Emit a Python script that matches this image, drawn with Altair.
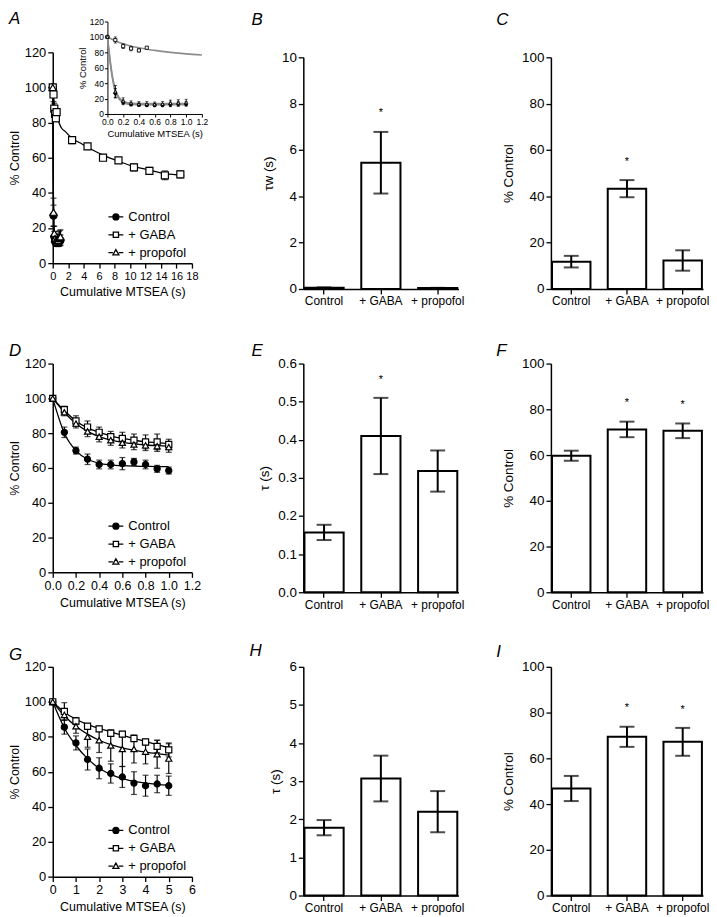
import altair as alt
import pandas as pd

FONT = "Liberation Sans"
GROUPS = ["Control", "+ GABA", "+ propofol"]

# ---------------- Panel A (main + inset) ----------------
A_x = [0.0, 0.1, 0.2, 0.3, 0.4, 0.5, 0.6, 0.7, 0.8, 0.9, 1.0]
A_ctrl = [100, 27, 15, 12.5, 12, 11.5, 11.5, 11.5, 12.5, 13, 13]
A_ctrl_err = [0, 6, 3, 2, 2, 2, 2, 2, 3, 3, 3]
A_prop = [100, 29, 17, 14, 13, 13, 12.5, 13, 14, 14.5, 15]
A_prop_err = [0, 8, 4, 3, 3, 3, 3, 3, 4, 4, 4]
A_gaba_x = [0.0, 0.1, 0.2, 0.3, 0.4, 0.5, 2.5, 4.5, 6.5, 8.5, 10.5, 12.5, 14.5, 16.5]
A_gaba = [100, 96, 88, 85, 82.5, 86, 70, 66.5, 60, 58.5, 54.5, 52.5, 50, 50.5]
A_gaba_err = [0, 4, 3, 3, 2, 0, 2, 1.5, 1, 1, 2, 2, 2.5, 2]

A_fast_fit_x = [0.0, 0.05, 0.1, 0.15, 0.2, 0.3, 0.5, 0.7, 1.0]
A_ctrl_fit = [100, 55, 29, 19, 15, 12.5, 12, 12, 12]
A_prop_fit = [100, 58, 32, 21, 16.5, 14, 13.5, 13.5, 13.5]
A_gaba_fit_x = [0.0, 0.1, 0.2, 0.3, 0.4, 0.5, 0.6, 0.8, 1.0, 1.2, 1.6, 2.5, 3.5,
                4.5, 6.5, 8.5, 10.5, 12.5, 14.5, 16.5, 17.0]
A_gaba_fit = [100, 95, 91, 88, 86, 84, 82.5, 80, 78, 76.5, 75, 71, 68.5,
              66, 61.5, 58, 55, 53, 51, 50, 49.6]

# ---------------- Panel D ----------------
D_x = [0.0, 0.1, 0.2, 0.3, 0.4, 0.5, 0.6, 0.7, 0.8, 0.9, 1.0]
D_ctrl = [100, 80.5, 70, 65, 62, 62, 62.5, 63.5, 62, 59.5, 58.5]
D_ctrl_err = [0, 3, 2, 3, 2.5, 2.5, 3.5, 2, 2.5, 2, 2]
D_gaba = [100, 93.5, 87, 83.5, 80.5, 78, 77, 76, 75, 75, 73.5]
D_gaba_err = [0, 2, 3, 3.5, 3, 3, 3.5, 3.5, 4, 4.5, 3]
D_prop = [100, 92, 85.5, 81, 78, 76, 74.5, 73.5, 73, 72.5, 72]
D_prop_err = [0, 2, 2.5, 3, 3, 3, 3, 3, 3, 3, 3]
D_ctrl_fit = [100, 80, 70, 65, 62.7, 61.8, 61.3, 61, 60.9, 60.8, 60.8]
D_gaba_fit = [100, 93, 87, 83, 80.5, 78.5, 77, 76, 75, 74.5, 74]
D_prop_fit = [100, 92, 85.5, 81, 78, 76, 74.7, 73.8, 73.2, 72.8, 72.5]

# ---------------- Panel G ----------------
G_x = [0.0, 0.5, 1.0, 1.5, 2.0, 2.5, 3.0, 3.5, 4.0, 4.5, 5.0]
G_ctrl = [100, 85.5, 76.5, 67, 62, 59, 57, 53.5, 52, 53, 52]
G_ctrl_err = [0, 4, 4, 6, 6, 5.5, 6, 6.5, 6, 5, 5.5]
G_gaba = [100, 94.5, 89, 86, 84.5, 82, 81.5, 79, 77, 74.5, 72.5]
G_gaba_err = [0, 5, 2, 1.5, 1.5, 1.5, 1.5, 1.5, 1.5, 3.5, 4]
G_prop = [100, 92.5, 86, 80, 78, 75, 73, 73, 71.5, 70, 67.5]
G_prop_err = [0, 3, 4, 6, 7, 9, 10, 8, 7, 8, 8.5]
G_ctrl_fit = [100, 85, 75, 67.5, 62, 58.5, 56, 54.5, 53.5, 52.8, 52.3]
G_gaba_fit = [100, 94, 90, 87, 84.8, 82.8, 80.8, 79, 77.3, 75.5, 73.8]
G_prop_fit = [100, 92, 86, 81.5, 78, 75.5, 73.7, 72.3, 71.2, 70.3, 69.5]

# ---------------- Bar panels ----------------
B_mean = [0.05, 5.45, 0.04]
B_err = [0.02, 1.33, 0.01]
B_star = [False, True, False]
C_mean = [11.8, 43.3, 12.3]
C_err = [2.5, 3.7, 4.4]
C_star = [False, True, False]
E_mean = [0.157, 0.41, 0.318]
E_err = [0.02, 0.10, 0.054]
E_star = [False, True, False]
F_mean = [59.7, 71.2, 70.6]
F_err = [2.2, 3.4, 3.2]
F_star = [False, True, True]
H_mean = [1.78, 3.07, 2.2]
H_err = [0.2, 0.6, 0.54]
H_star = [False, False, False]
I_mean = [46.8, 69.4, 67.2]
I_err = [5.5, 4.4, 6.1]
I_star = [False, True, True]

SHAPES = {"Control": ("circle", "black"),
          "+ GABA": ("square", "white"),
          "+ propofol": ("triangle-up", "white")}
LEG_PATHS = [
    "M-1,0H-0.4M0.4,0H1M-0.4,0A0.4,0.4,0,1,1,0.4,0A0.4,0.4,0,1,1,-0.4,0Z",
    "M-1,0H-0.35M0.35,0H1M-0.35,-0.35H0.35V0.35H-0.35Z",
    "M-1,0H-0.4M0.4,0H1M0,-0.42L0.4,0.3H-0.4Z",
]


def points_df(xl, yl, el):
    rows = []
    for g, xs, ys, es in zip(GROUPS, xl, yl, el):
        for x, y, e in zip(xs, ys, es):
            rows.append(dict(grp=g, x=x, y=y, lo=y - e, hi=y + e, err=e))
    return pd.DataFrame(rows)


def fit_df(xl, yl):
    rows = []
    for g, xs, ys in zip(GROUPS, xl, yl):
        for x, y in zip(xs, ys):
            rows.append(dict(grp=g, x=x, y=y))
    return pd.DataFrame(rows)


def series_layers(pts, fit, xscale, yscale, xaxis, yaxis, psize, capw,
                  lcolor="black", lwidth=1.3, swidth=1.2):
    X = alt.X("x:Q", scale=xscale, axis=xaxis)

    def Y(f):
        return alt.Y(f + ":Q", scale=yscale, axis=yaxis)

    err = alt.Chart(pts).transform_filter("datum.err > 0")
    layers = [
        alt.Chart(fit).mark_line(color=lcolor, strokeWidth=lwidth, interpolate="monotone")
        .encode(x=X, y=Y("y"), detail="grp:N"),
        err.mark_rule(color="black", strokeWidth=swidth).encode(x=X, y=Y("lo"), y2="hi:Q"),
        err.mark_tick(orient="horizontal", size=capw, thickness=swidth, color="black")
        .encode(x=X, y=Y("lo")),
        err.mark_tick(orient="horizontal", size=capw, thickness=swidth, color="black")
        .encode(x=X, y=Y("hi")),
    ]
    for g in GROUPS:
        shape, fill = SHAPES[g]
        layers.append(
            alt.Chart(pts).transform_filter(alt.datum.grp == g)
            .mark_point(shape=shape, filled=True, fill=fill, stroke="black",
                        strokeWidth=swidth, size=psize, opacity=1)
            .encode(x=X, y=Y("y"))
        )
    return layers


def legend_layer(lx, ly):
    leg = alt.Legend(orient="none", legendX=lx, legendY=ly, title=None,
                     labelFontSize=13, labelFont=FONT, labelColor="black",
                     symbolSize=225, symbolStrokeWidth=1.3, symbolStrokeColor="black",
                     symbolOpacity=1, rowPadding=2, padding=0, labelOffset=4)
    return alt.Chart(pd.DataFrame({"grp": GROUPS})).mark_point(
        opacity=0, filled=True, stroke="black").encode(
        shape=alt.Shape("grp:N", scale=alt.Scale(domain=GROUPS, range=LEG_PATHS), legend=leg),
        fill=alt.Fill("grp:N", scale=alt.Scale(domain=GROUPS, range=["black", "white", "white"]),
                      legend=leg),
        stroke=alt.Stroke("grp:N", scale=alt.Scale(domain=GROUPS, range=["black", "black", "black"]),
                          legend=leg),
    )


def letter(t, dx, offset):
    return alt.TitleParams(text=t, anchor="start", frame="group", fontStyle="italic",
                           fontWeight="normal", fontSize=17, font=FONT, color="black",
                           dx=dx, offset=offset, baseline="alphabetic")


LINE_W = 159      # view width of the left column
LINE_PLOT = 140   # drawn axis length


def line_axes(xvals, xfmt, xlab):
    xaxis = alt.Axis(values=xvals, format=xfmt, title="Cumulative MTSEA (s)",
                     labelFontSize=xlab, titleFontSize=12.5, labelOverlap=False,
                     titlePadding=5, labelFlush=False, titleX=LINE_PLOT / 2)
    yaxis = alt.Axis(values=[0, 20, 40, 60, 80, 100, 120], title="% Control",
                     labelFontSize=13, titleFontSize=12.5, titlePadding=3)
    return xaxis, yaxis


def line_panel(pts, fit, xdomain, xvals, xfmt, height, lx, ly, title, xlab=12.5, psize=38, capw=6):
    xs = alt.Scale(domain=xdomain, range=[0, LINE_PLOT], nice=False, zero=False)
    ys = alt.Scale(domain=[0, 120], nice=False)
    xaxis, yaxis = line_axes(xvals, xfmt, xlab)
    layers = series_layers(pts, fit, xs, ys, xaxis, yaxis, psize, capw)
    layers.append(legend_layer(lx, ly))
    return alt.layer(*layers).properties(width=LINE_W, height=height, title=title)


# ----- Panel A -----
A_pts = points_df([A_x, A_gaba_x, A_x], [A_ctrl, A_gaba, A_prop],
                  [A_ctrl_err, A_gaba_err, A_prop_err])
A_fit = fit_df([A_fast_fit_x, A_gaba_fit_x, A_fast_fit_x], [A_ctrl_fit, A_gaba_fit, A_prop_fit])
A_H = 212
xsA = alt.Scale(domain=[0, 18], range=[0, LINE_PLOT], nice=False, zero=False)
ysA = alt.Scale(domain=[0, 120], nice=False)
xaxA, yaxA = line_axes(list(range(0, 19, 2)), "d", 11)
mainA = alt.layer(*series_layers(A_pts, A_fit, xsA, ysA, xaxA, yaxA, 50, 6),
                  legend_layer(55, 157))

ins_pts = A_pts[A_pts.x <= 1.2]
ins_fit = A_fit[A_fit.x <= 1.2]
xsI = alt.Scale(domain=[0, 1.2], range=[55, 150], nice=False, zero=False)
ysI = alt.Scale(domain=[0, 120], range=[62, -31], nice=False)
xaxI = alt.Axis(orient="bottom", offset=-(A_H - 62), values=[0, 0.2, 0.4, 0.6, 0.8, 1.0, 1.2],
                format=".1f", title="Cumulative MTSEA (s)", labelFontSize=8.5, titleFontSize=9.5,
                tickSize=3, labelPadding=1, titlePadding=2, labelOverlap=False,
                domainWidth=1, tickWidth=1, labelFlush=False, titleX=102.5)
yaxI = alt.Axis(orient="left", offset=-55, values=[0, 20, 40, 60, 80, 100, 120],
                title="% Control", labelFontSize=8.5, titleFontSize=9.5, tickSize=3,
                labelPadding=1, titlePadding=2, domainWidth=1, tickWidth=1)
insetA = alt.layer(*series_layers(ins_pts, ins_fit, xsI, ysI, xaxI, yaxI, 10, 3,
                                  lcolor="#8c8c8c", lwidth=1.6, swidth=0.9))
panelA = alt.layer(mainA, insetA).resolve_scale(x="independent", y="independent").properties(
    width=LINE_W, height=A_H, title=letter("A", -44, -24))

# ----- Panel D -----
D_pts = points_df([D_x] * 3, [D_ctrl, D_gaba, D_prop], [D_ctrl_err, D_gaba_err, D_prop_err])
D_fit = fit_df([D_x] * 3, [D_ctrl_fit, D_gaba_fit, D_prop_fit])
panelD = line_panel(D_pts, D_fit, [0, 1.2], [0, 0.2, 0.4, 0.6, 0.8, 1.0, 1.2], ".1f", 210,
                    55, 155, letter("D", -44, -15))

# ----- Panel G -----
G_pts = points_df([G_x] * 3, [G_ctrl, G_gaba, G_prop], [G_ctrl_err, G_gaba_err, G_prop_err])
G_fit = fit_df([G_x] * 3, [G_ctrl_fit, G_gaba_fit, G_prop_fit])
panelG = line_panel(G_pts, G_fit, [0, 6], [0, 1, 2, 3, 4, 5, 6], "d", 211,
                    55, 156, letter("G", -44, -16))


# ----- Bar panels -----
def bar_panel(means, errs, stars, ymax, yvals, yfmt, ytitle, width, height, title, yrange=None):
    df = pd.DataFrame({"grp": GROUPS, "m": means,
                       "lo": [m - e for m, e in zip(means, errs)],
                       "hi": [m + e for m, e in zip(means, errs)]})
    sdf = pd.DataFrame({"grp": [g for g, s in zip(GROUPS, stars) if s],
                        "sy": [m + e + 0.08 * ymax for m, e, s in zip(means, errs, stars) if s]})
    xs = alt.Scale(domain=GROUPS, paddingInner=0.31, paddingOuter=0.02)
    if yrange is None:
        ys = alt.Scale(domain=[0, ymax], nice=False)
    else:
        ys = alt.Scale(domain=[0, ymax], nice=False, range=yrange)
    X = alt.X("grp:N", scale=xs, sort=GROUPS,
              axis=alt.Axis(title=None, labelAngle=0, labelFontSize=12, labelPadding=2))
    yaxis = alt.Axis(values=yvals, format=yfmt, title=ytitle, labelFontSize=13.5,
                     titleFontSize=13.5, titlePadding=6)

    def Y(f):
        return alt.Y(f + ":Q", scale=ys, axis=yaxis)

    layers = [
        alt.Chart(df).mark_bar(fill="white", stroke="black", strokeWidth=2).encode(x=X, y=Y("m")),
        alt.Chart(df).mark_rule(color="black", strokeWidth=2).encode(x=X, y=Y("lo"), y2="hi:Q"),
        alt.Chart(df).mark_tick(orient="horizontal", size=15, thickness=2, color="black")
        .encode(x=X, y=Y("lo")),
        alt.Chart(df).mark_tick(orient="horizontal", size=15, thickness=2, color="black")
        .encode(x=X, y=Y("hi")),
    ]
    if len(sdf):
        layers.append(alt.Chart(sdf).mark_text(text="*", fontSize=11, color="black",
                                               baseline="middle", font=FONT)
                      .encode(x=X, y=Y("sy")))
    return alt.layer(*layers).properties(width=width, height=height, title=title)


TALL = 238
panelB = bar_panel(B_mean, B_err, B_star, 10, [0, 2, 4, 6, 8, 10], "d", "τw (s)", 156, TALL,
                   letter("B", -52, 8), yrange=[TALL, 5])
panelC = bar_panel(C_mean, C_err, C_star, 100, [0, 20, 40, 60, 80, 100], "d", "% Control", 153,
                   TALL, letter("C", -55, 8), yrange=[TALL, 5])
panelE = bar_panel(E_mean, E_err, E_star, 0.6, [0, 0.1, 0.2, 0.3, 0.4, 0.5, 0.6], ".1f", "τ (s)",
                   156, 230, letter("E", -52, -16))
panelF = bar_panel(F_mean, F_err, F_star, 100, [0, 20, 40, 60, 80, 100], "d", "% Control", 153,
                   230, letter("F", -55, -16))
panelH = bar_panel(H_mean, H_err, H_star, 6, [0, 1, 2, 3, 4, 5, 6], "d", "τ (s)", 156, 230,
                   letter("H", -54, -13))
panelI = bar_panel(I_mean, I_err, I_star, 100, [0, 20, 40, 60, 80, 100], "d", "% Control", 153,
                   230, letter("I", -55, -14))

chart = alt.concat(
    panelA, panelB, panelC, panelD, panelE, panelF, panelG, panelH, panelI,
    columns=3, spacing=alt.RowColnumber(row=75, column=93), bounds="flush", align="each",
).resolve_scale(
    shape="independent", fill="independent", stroke="independent"
).resolve_legend(
    shape="independent", fill="independent", stroke="independent"
).properties(padding=0).configure(font=FONT).configure_view(stroke=None).configure_axis(
    domainColor="black", domainWidth=1.5, tickColor="black", tickWidth=1.3, tickSize=5,
    labelColor="black", titleColor="black", labelFont=FONT, titleFont=FONT,
    titleFontWeight="normal", grid=False, labelPadding=2,
).configure_title(color="black")

chart.save("out.html", embed_options={"renderer": "svg", "actions": False})
